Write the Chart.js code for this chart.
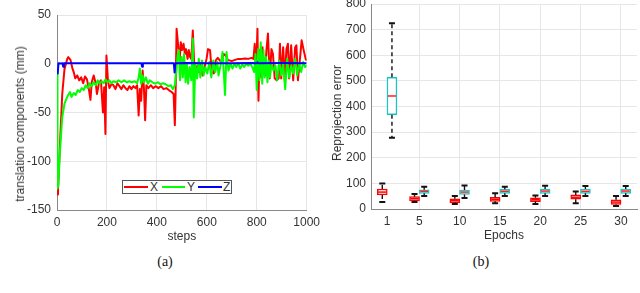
<!DOCTYPE html>
<html>
<head>
<meta charset="utf-8">
<script src="https://cdn.jsdelivr.net/npm/chart.js@4.4.1/dist/chart.umd.min.js"></script>
<style>
  body { margin: 0; background: #fff; width: 640px; height: 293px; overflow: hidden; position: relative;
         font-family: 'Liberation Sans', Arial, sans-serif; color: #333; }
  #trans { position: absolute; left: 0; top: 0; }
  #reproj { position: absolute; left: 325px; top: 0; }
  .ytitle { position: absolute; font-size: 12px; white-space: nowrap; transform: translate(-50%, -50%) rotate(-90deg); }
  .cap { position: absolute; font-family: 'Liberation Serif', 'Times New Roman', serif; font-size: 14px;
         color: #111; transform: translate(-50%, -50%); }
  #legend { position: absolute; left: 122px; top: 180px; width: 110px; height: 14px; box-sizing: border-box;
            border: 1px solid #555; background: #fff; font-size: 12px; line-height: 12px; }
  #legend span { position: absolute; top: 0; }
  #legend i { position: absolute; top: 5px; height: 2px; }
</style>
</head>
<body>
<canvas id="trans" width="325" height="250"></canvas>
<canvas id="reproj" width="315" height="250"></canvas>

<div class="ytitle" style="left:20px; top:124px">translation components (mm)</div>
<div class="ytitle" style="left:337px; top:113px">Reprojection error</div>
<div id="legend">
  <i style="left:1px; width:24px; background:#f00"></i><span style="left:27px">X</span>
  <i style="left:39px; width:23px; background:#0f0"></i><span style="left:64px">Y</span>
  <i style="left:75px; width:24px; background:#00f"></i><span style="left:100px">Z</span>
</div>
<div class="cap" style="left:165px; top:262px">(a)</div>
<div class="cap" style="left:481px; top:262px">(b)</div>

<script>
// (a) translation components per step
const stepsX = [
  0, 4, 12, 21, 30, 41, 45, 54, 62, 67,
  73, 81, 89, 97, 105, 112, 120, 127, 134, 139,
  147, 155, 160, 168, 176, 184, 189, 194, 198, 204,
  210, 218, 226, 234, 242, 250, 258, 266, 274, 282,
  290, 298, 306, 314, 321, 327, 332, 337, 343, 348,
  353, 358, 366, 376, 385, 396, 406, 417, 427, 438,
  448, 459, 467, 472, 475, 479, 486, 491, 496, 501,
  507, 512, 517, 523, 528, 533, 538, 544, 549, 554,
  562, 568, 575, 583, 591, 599, 605, 613, 620, 628,
  636, 644, 652, 660, 668, 676, 684, 700, 713, 726,
  740, 753, 766, 779, 787, 792, 798, 803, 807, 812,
  818, 823, 828, 833, 839, 845, 852, 859, 865, 872,
  880, 888, 893, 898, 906, 912, 919, 925, 930, 938,
  946, 954, 959, 965, 972, 980, 988, 996, 1000
];
const valuesX = [
  -134, -130, -82, -31, -5.5, 4.8, 6.8, 4, -5, -8.5,
  -15, -12, -17, -14, -20, -13, -16, -25, -37, -19,
  -12, -20, -31, -20, -17, -50, -24, -72, 8.5, -17,
  -25, -21, -22, -26, -20, -23, -26, -22, -25, -27,
  -23, -26, -23, -25, -22, -53, -26, -38, -7, -24,
  -58, -22, -25, -22, -25, -23, -25, -23, -26, -25,
  -27, -29, -31, -63, -31, 36, 17, 3.4, 22, 14,
  20.5, 10, 15, 5, 14, 7, 5, 34, 3, -5,
  -2, -8.5, 0, -12, -3.4, 5, 15, 14, -8.5, -10,
  3.4, 6, 3.4, 1.7, 10, 8.5, 4, 2.7, 4, 5,
  5, 5.5, 5, 6, 5, 20.5, -7, 36, -38, 14,
  -14, 17, -3.4, -12, 14, 31, -15, 15, 10, -15,
  -17, -15, 20.5, -15, 17, -17, 15, 20.5, -15, 19,
  -17, 17, 19, -17, 1.7, 24, 14, 5, 3.4
];

const stepsY = [
  0, 2, 5, 12, 21, 30, 41, 45, 52, 58,
  67, 75, 83, 91, 99, 107, 115, 123, 131, 139,
  147, 155, 163, 171, 179, 187, 194, 202, 210, 218,
  226, 237, 247, 258, 269, 279, 290, 300, 311, 321,
  327, 332, 337, 343, 348, 356, 364, 372, 382, 393,
  404, 414, 425, 435, 446, 456, 464, 472, 478, 483,
  488, 493, 499, 504, 509, 515, 520, 525, 531, 538,
  544, 548, 554, 561, 568, 574, 581, 587, 594, 602,
  610, 618, 626, 634, 642, 647, 655, 663, 668, 673,
  679, 687, 695, 703, 710, 718, 726, 734, 742, 750,
  758, 766, 774, 782, 790, 795, 800, 806, 811, 816,
  822, 827, 832, 837, 843, 848, 853, 859, 867, 875,
  882, 890, 898, 906, 914, 922, 930, 938, 946, 954,
  962, 970, 978, 986, 994, 1000
];
const valuesY = [
  -5, -128, -125, -89, -55, -41, -34, -32, -29, -34,
  -30, -32, -27, -29, -25, -27, -22, -25, -20, -23,
  -19, -22, -17, -20.5, -18, -20, -16, -19, -17, -20,
  -18, -19, -17, -19, -17, -19, -18, -19, -18, -20,
  -14, -5, -20.5, -12, -19, -14, -20.5, -17, -19, -20.5,
  -19, -21, -20, -21, -23, -22, -26, -22, -7, 8.5,
  14, -17, 7, -14, 10, -19, 0, -20.5, -3.4, -17,
  26, -55, 0, -15, 5, -14, 3.4, -12, -3.4, -10,
  1.7, -14, 3.4, -8.5, 1.7, -12, -1.7, 12, -8.5, -32,
  12, -7, 0, -5, 0, -3.4, 0.7, -5, -0.7, -3.4,
  0, -2, 0, -3.4, -8.5, 10, -27, 15, -17, 22,
  -20.5, 14, -14, 7, -19, 3.4, -14, 0, -7, -1.7,
  -17, 3.4, -12, 0, -26, 5, -14, -1.7, -10, 5,
  -12, 0, -8.5, 1.7, -3.4, -1.7
];

const stepsZ = [0, 3, 6, 15, 22, 25, 28, 60, 120, 200, 260, 338, 341, 344, 400, 468, 471, 474, 520, 600, 700, 780, 800, 803, 806, 900, 1000];
const valuesZ = [-10, -9, 0.5, 0.3, 0.4, -3, 0.5, 0.6, 0.4, 0.5, 0.6, 0.4, -3, 0.5, 0.6, 0.5, -9, 0.5, 0.8, 0.6, 0.4, 0.7, 0.5, 1.5, 0.5, 0.7, 0.6];

const stepTicks = [0, 200, 400, 600, 800, 1000];
const transTicks = [-150, -100, -50, 0, 50];

// (b) reprojection error box plots
const epochs = [1, 5, 10, 15, 20, 25, 30];
const redLo  = [27, 27, 20, 22, 20, 22, 12];
const redQ1  = [55, 32, 25, 30, 29, 38, 18];
const redMed = [66, 40, 33, 38, 36, 46, 27];
const redQ3  = [78, 48, 40, 46, 44, 55, 36];
const redHi  = [100, 59, 51, 61, 53, 68, 51];
const cyanLo  = [278, 51, 43, 51, 51, 51, 51];
const cyanQ1  = [368, 61, 57, 61, 61, 61, 61];
const cyanMed = [441, 69, 66, 69, 70, 69, 70];
const cyanQ3  = [514, 75, 74, 77, 78, 78, 78];
const cyanHi  = [725, 87, 92, 87, 91, 90, 90];
const errorTicks = [0, 100, 200, 300, 400, 500, 600, 700, 800];

Chart.defaults.font.family = "'Liberation Sans', Arial, sans-serif";
Chart.defaults.font.size = 12;
Chart.defaults.color = '#333';

const GRID = '#e6e6e6';
const AXIS = '#888';

const pts = (xs, ys) => xs.map((x, i) => ({ x, y: ys[i] }));
const fixTicks = list => s => { s.ticks = list.map(v => ({ value: v })); };
const plain = v => String(v);

new Chart(document.getElementById('trans'), {
  type: 'line',
  data: {
    datasets: [
      { label: 'X', data: pts(stepsX, valuesX), borderColor: '#ff0000', order: 3 },
      { label: 'Y', data: pts(stepsY, valuesY), borderColor: '#00ff00', order: 2 },
      { label: 'Z', data: pts(stepsZ, valuesZ), borderColor: '#0000ff', order: 1 }
    ]
  },
  options: {
    responsive: false,
    animation: false,
    layout: { padding: { top: 15, right: 16, bottom: 0, left: 0 } },
    elements: { point: { radius: 0 }, line: { borderWidth: 2, tension: 0, borderJoinStyle: 'round' } },
    plugins: { legend: { display: false }, tooltip: { enabled: false } },
    scales: {
      x: {
        type: 'linear', min: 0, max: 1000,
        afterBuildTicks: fixTicks(stepTicks),
        afterFit: s => { s.height = 40; },
        grid: { color: GRID, drawTicks: false },
        border: { color: AXIS },
        ticks: { padding: 5, callback: plain },
        title: { display: true, text: 'steps', padding: { top: 0, bottom: 6 } }
      },
      y: {
        min: -150, max: 50,
        afterBuildTicks: fixTicks(transTicks),
        afterFit: s => { s.width = 57; s.paddingTop = 0; s.paddingBottom = 0; },
        grid: { color: GRID, drawTicks: false },
        border: { color: AXIS },
        ticks: { padding: 6, callback: plain }
      }
    }
  }
});

const groups = [
  { color: '#ff0000', median: '#ff0000', shift: -0.6, lo: redLo, q1: redQ1, med: redMed, q3: redQ3, hi: redHi },
  { color: '#1cc6c6', median: '#ff2020', shift: 0.6, lo: cyanLo, q1: cyanQ1, med: cyanMed, q3: cyanQ3, hi: cyanHi }
];

const whiskers = {
  id: 'whiskers',
  afterDatasetsDraw(chart) {
    const { ctx, scales: { x, y } } = chart;
    ctx.save();
    groups.forEach(g => {
      epochs.forEach((e, i) => {
        const px = x.getPixelForValue(e + g.shift);
        ctx.strokeStyle = '#111';
        ctx.lineWidth = 1.4;
        ctx.setLineDash([4, 3]);
        ctx.beginPath();
        ctx.moveTo(px, y.getPixelForValue(g.q3[i]));
        ctx.lineTo(px, y.getPixelForValue(g.hi[i]));
        ctx.moveTo(px, y.getPixelForValue(g.q1[i]));
        ctx.lineTo(px, y.getPixelForValue(g.lo[i]));
        ctx.stroke();
        ctx.setLineDash([]);
        ctx.lineWidth = 2;
        ctx.beginPath();
        [g.hi[i], g.lo[i]].forEach(v => {
          const py = y.getPixelForValue(v);
          ctx.moveTo(px - 3, py);
          ctx.lineTo(px + 3, py);
        });
        ctx.stroke();
        const pm = y.getPixelForValue(g.med[i]);
        ctx.strokeStyle = g.median;
        ctx.lineWidth = 1.5;
        ctx.beginPath();
        ctx.moveTo(px - 4, pm);
        ctx.lineTo(px + 4, pm);
        ctx.stroke();
      });
    });
    ctx.restore();
  }
};

new Chart(document.getElementById('reproj'), {
  type: 'bar',
  data: {
    datasets: groups.map(g => ({
      data: epochs.map((e, i) => ({ x: e + g.shift, y: [g.q1[i], g.q3[i]] })),
      backgroundColor: '#ffffff',
      borderColor: g.color,
      borderWidth: 1.5,
      borderSkipped: false,
      barThickness: 10,
      grouped: false
    }))
  },
  options: {
    responsive: false,
    animation: false,
    layout: { padding: { top: 4, right: 3, bottom: 0, left: 0 } },
    plugins: { legend: { display: false }, tooltip: { enabled: false } },
    scales: {
      x: {
        type: 'linear', min: -1, max: 32, offset: false,
        afterBuildTicks: fixTicks(epochs),
        afterFit: s => { s.height = 41; },
        grid: { offset: false, drawTicks: false, color: c => (c.tick && c.tick.value === 1 ? 'rgba(0,0,0,0)' : GRID) },
        border: { color: AXIS },
        ticks: { padding: 5, callback: plain },
        title: { display: true, text: 'Epochs', padding: { top: 0, bottom: 7 } }
      },
      y: {
        min: 0, max: 800,
        afterBuildTicks: fixTicks(errorTicks),
        afterFit: s => { s.width = 46; s.paddingTop = 0; s.paddingBottom = 0; },
        grid: { color: GRID, drawTicks: false },
        border: { color: AXIS },
        ticks: { padding: 5, callback: plain }
      }
    }
  },
  plugins: [whiskers]
});
</script>
</body>
</html>
